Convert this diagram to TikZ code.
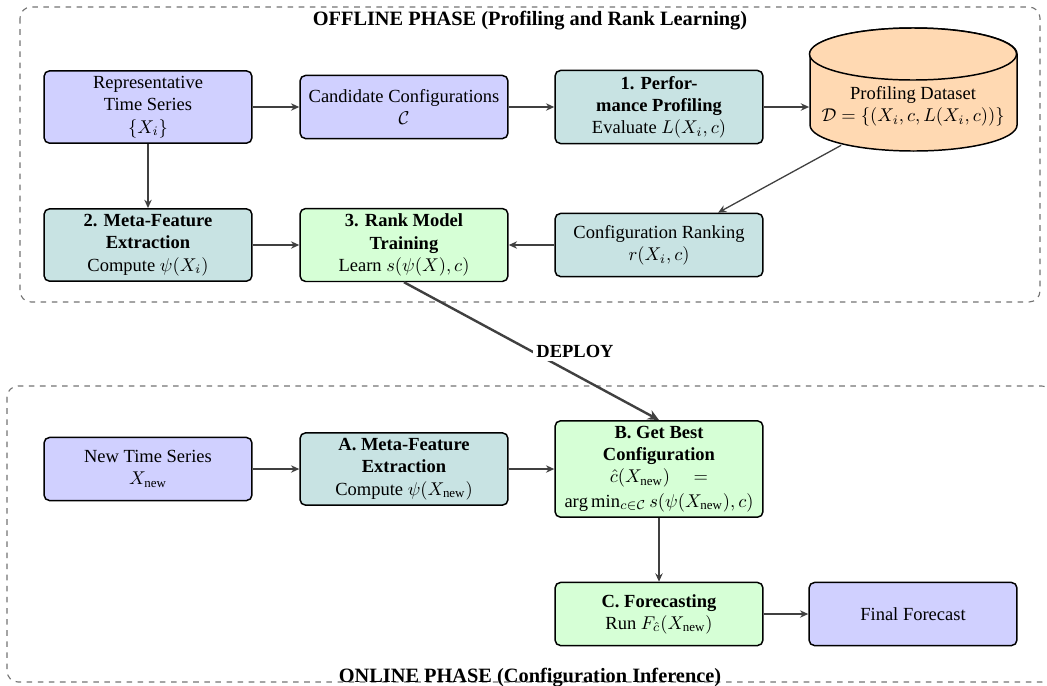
\documentclass[tikz,border=0pt]{standalone}
\usepackage{amsmath}
\usepackage{fontspec}
\setmainfont{Liberation Serif}
\usetikzlibrary{shapes.geometric,arrows.meta}
\definecolor{cblue}{RGB}{208,208,255}
\definecolor{cteal}{RGB}{200,227,227}
\definecolor{cgreen}{RGB}{214,255,214}
\definecolor{corange}{RGB}{255,217,178}
\tikzset{
  box/.style={draw=black, line width=0.8pt, rounded corners=3pt, align=center,
    minimum width=3.95cm, minimum height=1.2cm, inner sep=3pt,
    font=\fontsize{10}{12}\selectfont},
  bluebox/.style={box, fill=cblue},
  tealbox/.style={box, fill=cteal},
  greenbox/.style={box, fill=cgreen},
  cyl/.style={draw=black, line width=0.8pt, fill=corange},
  conn/.style={draw=black!75, line width=0.7pt, -{Stealth[length=4.5pt,width=4pt]}},
  deploy/.style={draw=black!75, line width=1.3pt, -{Stealth[length=6pt,width=5.5pt]}},
  phase/.style={draw=black!55, dashed, line width=0.6pt, rounded corners=6pt},
  phasetitle/.style={font=\fontsize{11}{13}\selectfont\bfseries},
}
\begin{document}
\begin{tikzpicture}[x=0.019cm,y=-0.019cm]
\useasboundingbox (0,0) rectangle (1047,685);

% phase frames
\draw[phase] (20,7) rectangle (1040,302);
\node[phasetitle] (offt) at (530,21) {OFFLINE PHASE (Profiling and Rank Learning)};
\draw[phase] (7,386) rectangle (1053,682);
\node[phasetitle] (onlt) at (530,678) {ONLINE PHASE (Configuration Inference)};

% profiling dataset cylinder (drawn shape)
\path[cyl] (810,54) -- (810,125) arc[start angle=180, end angle=360, x radius=1.9665cm, y radius=0.494cm]
  -- (1017,54) arc[start angle=0, end angle=180, x radius=1.9665cm, y radius=0.494cm] -- cycle;
\draw[cyl] (913,54) ellipse[x radius=1.9665cm, y radius=0.494cm];

% offline nodes
\node[bluebox] (rep) at (148,107) {Representative\\Time Series\\$\{X_i\}$};
\node[bluebox] (cand) at (404,107) {Candidate Configurations\\$\mathcal{C}$};
\node[tealbox] (perf) at (659,107) {\textbf{1. Perfor-}\\\textbf{mance Profiling}\\Evaluate $L(X_i,c)$};
\node[align=center, inner sep=0pt, minimum width=3.933cm, minimum height=1.48cm,
      font=\fontsize{10}{12}\selectfont] (db) at (913,106)
      {Profiling Dataset\\$\mathcal{D}=\{(X_i,c,L(X_i,c))\}$};
\node[tealbox] (meta) at (148,245) {\textbf{2. Meta-Feature}\\\textbf{Extraction}\\Compute $\psi(X_i)$};
\node[greenbox] (rankm) at (404,245) {\textbf{3. Rank Model}\\\textbf{Training}\\Learn $s(\psi(X),c)$};
\node[tealbox] (cfg) at (659,245) {Configuration Ranking\\$r(X_i,c)$};

% online nodes
\node[bluebox] (newts) at (148,469) {New Time Series\\$X_{\text{new}}$};
\node[tealbox] (ameta) at (404,469) {\textbf{A. Meta-Feature}\\\textbf{Extraction}\\Compute $\psi(X_{\text{new}})$};
\node[greenbox] (best) at (659,469) {\textbf{B. Get Best}\\\textbf{Configuration}\\$\hat{c}(X_{\text{new}})\quad=$\\[1pt]$\arg\min_{c\in\mathcal{C}}s(\psi(X_{\text{new}}),c)$};
\node[greenbox] (fc) at (659,614) {\textbf{C. Forecasting}\\Run $F_{\hat{c}}(X_{\text{new}})$};
\node[bluebox] (final) at (913,614) {Final Forecast};

% connectors
\draw[conn] (rep) -- (cand);
\draw[conn] (cand) -- (perf);
\draw[conn] (perf) -- (perf -| db.west);
\draw[conn] (db) -- (cfg);
\draw[conn] (cfg) -- (rankm);
\draw[conn] (rep) -- (meta);
\draw[conn] (meta) -- (rankm);
\draw[deploy] (rankm.south) -- (best.north)
  node[pos=0.5, anchor=west, fill=white, inner sep=2pt, font=\fontsize{10}{12}\selectfont\bfseries] (dl) {DEPLOY};
\draw[conn] (newts) -- (ameta);
\draw[conn] (ameta) -- (best);
\draw[conn] (best) -- (fc);
\draw[conn] (fc) -- (final);
\end{tikzpicture}
\end{document}
